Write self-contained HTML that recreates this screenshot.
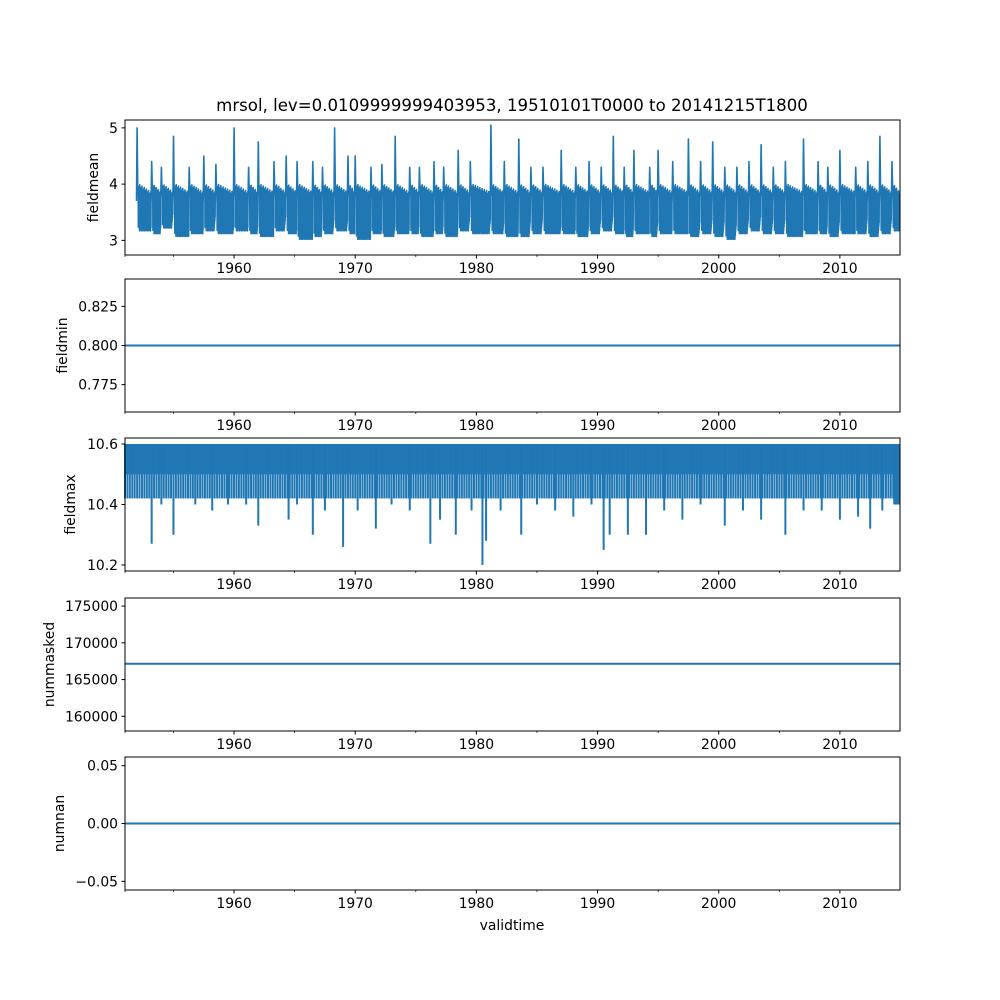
<!DOCTYPE html>
<html><head><meta charset="utf-8"><style>
body{margin:0;background:#fff}
svg{display:block;font-family:"DejaVu Sans","Liberation Sans",sans-serif}
</style></head><body>
<svg id="fig" width="1000" height="1000" viewBox="0 0 1000 1000"></svg>
<script>
const years = [1960,1970,1980,1990,2000,2010];
const minorYears = [1955,1965,1975,1985,1995,2005];
const xStart = 1951.0, xEnd = 2014.96;
// panel 1: peak years and values
const meanPeakYears = [1952.0,1953.2,1954.0,1955.0,1956.3,1957.5,1958.5,1960.0,1961.2,1962.0,1963.3,1964.3,1965.2,1966.5,1967.3,1968.3,1969.4,1970.0,1971.3,1972.2,1973.3,1974.5,1975.3,1976.5,1977.3,1978.5,1979.5,1981.2,1982.3,1983.5,1984.5,1985.5,1987.0,1988.2,1989.3,1990.3,1991.3,1992.2,1993.0,1994.3,1995.0,1996.2,1997.5,1998.5,1999.5,2000.5,2001.5,2002.5,2003.5,2004.5,2005.5,2007.0,2008.2,2009.0,2010.0,2011.3,2012.3,2013.3,2014.3];
const meanPeaks = [5.0,4.4,4.3,4.85,4.3,4.5,4.35,5.0,4.3,4.75,4.4,4.5,4.4,4.4,4.3,5.0,4.5,4.5,4.3,4.35,4.85,4.3,4.3,4.4,4.3,4.6,4.4,5.05,4.4,4.8,4.3,4.3,4.6,4.3,4.4,4.3,4.85,4.3,4.6,4.3,4.6,4.4,4.8,4.4,4.75,4.3,4.3,4.4,4.7,4.3,4.4,4.8,4.4,4.3,4.6,4.3,4.4,4.85,4.4];
const meanLows = [3.05,3.0,3.1,2.95,3.0,3.05,3.0,3.05,3.0,2.95,3.05,3.0,2.9,2.95,3.0,3.05,3.0,2.9,3.0,2.95,3.0,3.0,2.95,3.0,2.95,3.05,3.0,3.0,2.95,2.95,3.0,3.0,3.0,2.95,3.0,3.05,3.0,2.95,3.0,2.95,3.0,3.0,2.95,3.0,2.95,2.9,3.0,3.05,3.0,3.0,2.95,3.0,3.0,2.95,3.0,3.0,2.95,3.0,3.05];
// panel 3: dips
const maxDipYears = [1953.2,1954.0,1955.0,1956.8,1958.2,1959.5,1961.0,1962.0,1964.5,1965.2,1966.5,1967.5,1969.0,1970.2,1971.7,1973.0,1974.5,1976.2,1977.0,1978.3,1979.6,1980.5,1980.8,1982.0,1983.7,1985.0,1986.5,1988.0,1989.5,1990.5,1991.0,1992.5,1994.0,1995.5,1997.0,1998.5,2000.5,2002.0,2003.5,2005.5,2007.0,2008.5,2010.0,2011.5,2012.5,2013.5];
const maxDips = [10.27,10.4,10.3,10.4,10.38,10.4,10.4,10.33,10.35,10.4,10.3,10.38,10.26,10.38,10.32,10.4,10.38,10.27,10.35,10.3,10.38,10.2,10.28,10.38,10.3,10.4,10.38,10.36,10.4,10.25,10.3,10.3,10.3,10.38,10.35,10.4,10.33,10.38,10.35,10.3,10.38,10.38,10.35,10.36,10.32,10.38];
const minConst = 0.8, maskedConst = 167160, nanConst = 0.0;

const L=125,R=900;
const panels=[
 {top:120,bot:255,ymin:2.74,ymax:5.14,ticks:[3,4,5],lab:["3","4","5"],name:"fieldmean"},
 {top:279,bot:412,ymin:0.7575,ymax:0.8425,ticks:[0.775,0.8,0.825],lab:["0.775","0.800","0.825"],name:"fieldmin"},
 {top:438,bot:571,ymin:10.18,ymax:10.62,ticks:[10.2,10.4,10.6],lab:["10.2","10.4","10.6"],name:"fieldmax"},
 {top:598,bot:731,ymin:158000,ymax:176100,ticks:[160000,165000,170000,175000],lab:["160000","165000","170000","175000"],name:"nummasked"},
 {top:757,bot:890,ymin:-0.0575,ymax:0.0575,ticks:[-0.05,0,0.05],lab:["−0.05","0.00","0.05"],name:"numnan"}];
const svg=document.getElementById('fig');const NS="http://www.w3.org/2000/svg";
function mk(t,a,p){const e=document.createElementNS(NS,t);for(const k in a)e.setAttribute(k,a[k]);(p||svg).appendChild(e);return e;}
const xs=y=>L+(y-xStart)/(xEnd-xStart)*(R-L);
const C="#1f77b4";
panels.forEach((p,i)=>{
 const ys=v=>p.bot-(v-p.ymin)/(p.ymax-p.ymin)*(p.bot-p.top);
 const g=mk('g',{});
 
 
 const s=mk('g',{},g);
 
 
 if(i===0){
  let pts=[];
  for(let k=0;k<meanPeakYears.length;k++){
   const y0=meanPeakYears[k], y1=k+1<meanPeakYears.length?meanPeakYears[k+1]:xEnd;
   pts.push([y0-0.05,3.7],[y0,meanPeaks[k]],[y0+0.06,3.8]);
   const n=Math.max(6,Math.round((y1-y0)*70));
   for(let j=1;j<n;j++){const t=y0+0.08+(y1-y0-0.12)*j/n;
    const hi=3.75+0.3*(((j*5)%7)/7)-0.15*(j/n), lo=meanLows[k]+0.12+0.3*(((j*3)%5)/5);
    pts.push([t,(j%2)?hi:lo]);}
  }
  mk('polyline',{points:pts.map(q=>xs(q[0]).toFixed(1)+','+ys(q[1]).toFixed(1)).join(' '),fill:'none',stroke:C,'stroke-width':1.6,'stroke-linejoin':'round'},s);
 } else if(i===2){
  mk('rect',{x:L,y:ys(10.6),width:R-L,height:ys(10.5)-ys(10.6),fill:C,opacity:0.95},s);
  for(let yr=Math.ceil(xStart);yr<xEnd;yr+=0.2){mk('line',{x1:xs(yr),x2:xs(yr),y1:ys(10.6),y2:ys(10.42),stroke:C,'stroke-width':2},s);}
  mk('rect',{x:xs(2014.4),y:ys(10.6),width:R-xs(2014.4),height:ys(10.4)-ys(10.6),fill:C},s);
  for(let k=0;k<maxDipYears.length;k++)mk('line',{x1:xs(maxDipYears[k]),x2:xs(maxDipYears[k]),y1:ys(10.6),y2:ys(maxDips[k]),stroke:C,'stroke-width':2},s);
 } else {
  const v=[0,minConst,0,maskedConst,nanConst][i];
  mk('line',{x1:L,x2:R,y1:ys(v),y2:ys(v),stroke:C,'stroke-width':2},s);
 }
 const fr=mk('rect',{x:L,y:p.top,width:R-L,height:p.bot-p.top,fill:'none',stroke:'#000','stroke-width':1},g);
 
 
 p.ticks.forEach((t,j)=>{const y=ys(t);mk('line',{x1:L-3.5,x2:L,y1:y,y2:y,stroke:'#000','stroke-width':1},g);
  const tx=mk('text',{x:L-7,y:y+5,'text-anchor':'end','font-size':13.9},g);tx.textContent=p.lab[j];
  
  });
 years.forEach(yr=>{const x=xs(yr);mk('line',{x1:x,x2:x,y1:p.bot,y2:p.bot+3.5,stroke:'#000','stroke-width':1},g);
  const tx=mk('text',{x:x,y:p.bot+18,'text-anchor':'middle','font-size':13.9},g);tx.textContent=yr;
  
  });
 minorYears.concat([xStart]).forEach(yr=>{const x=xs(yr);mk('line',{x1:x,x2:x,y1:p.bot,y2:p.bot+2,stroke:'#000','stroke-width':0.7},g);});
 const yl=mk('text',{x:0,y:0,'text-anchor':'middle','font-size':13.9,transform:`translate(${[98,67,75,54,64][i]},${(p.top+p.bot)/2}) rotate(-90)`},g);
 yl.textContent=p.name;
 
 
});
const ti=mk('text',{x:512,y:111,'text-anchor':'middle','font-size':16.6});
ti.textContent="mrsol, lev=0.0109999999403953, 19510101T0000 to 20141215T1800";


const xl=mk('text',{x:512,y:930,'text-anchor':'middle','font-size':13.9});
xl.textContent="validtime";


</script>
</body></html>
